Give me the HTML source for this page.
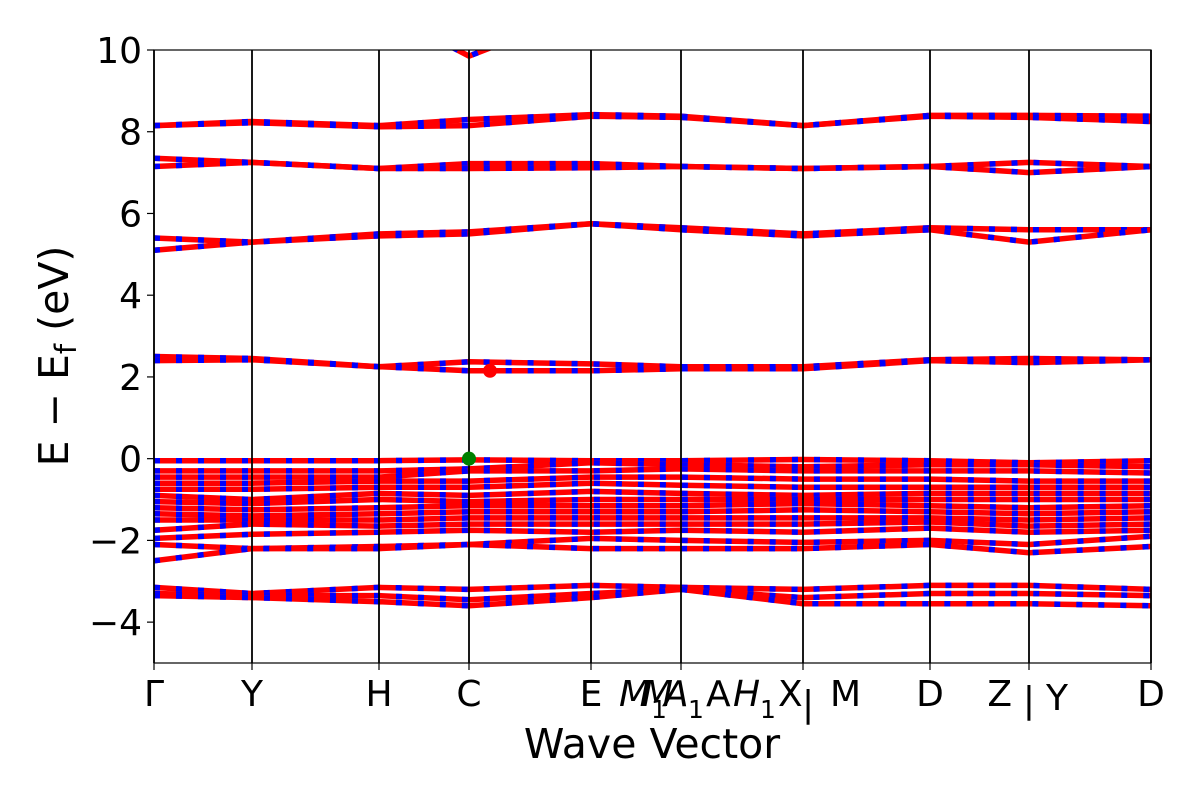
<!DOCTYPE html>
<html><head><meta charset="utf-8"><style>
body{margin:0;background:#fff;}
svg text{font-family:"DejaVu Sans","Liberation Sans",sans-serif;fill:#000;}
</style></head><body>
<svg id="chart" width="1200" height="800">
<defs><clipPath id="clip"><rect x="154" y="50" width="997" height="613"/></clipPath></defs>
<g id="bands" clip-path="url(#clip)"></g>
<g id="axes"></g>
</svg>
<script>
const kPos = [154,252,379,469,591,681,803,930,1029,1151];
const kLabels = ["Γ","Y","H","C","E","","","D","","D"];
const yTicks = [-4,-2,0,2,4,6,8,10];
const bandUp = [
 [11,11,11,9.85,11,11,11,11,11,11],
 [8.15,8.25,8.15,8.3,8.42,8.38,8.15,8.4,8.4,8.38],
 [8.15,8.22,8.12,8.15,8.38,8.35,8.15,8.38,8.35,8.25],
 [7.35,7.25,7.1,7.22,7.22,7.15,7.1,7.15,7.25,7.15],
 [7.15,7.25,7.1,7.1,7.12,7.15,7.1,7.15,7.0,7.15],
 [5.4,5.3,5.5,5.55,5.75,5.65,5.5,5.65,5.6,5.6],
 [5.1,5.3,5.45,5.5,5.75,5.6,5.45,5.6,5.3,5.6],
 [2.5,2.45,2.25,2.37,2.32,2.25,2.25,2.42,2.45,2.42],
 [2.4,2.42,2.25,2.15,2.15,2.2,2.2,2.4,2.35,2.42]
];
const bandVal = [
 [-0.05,-0.05,-0.05,-0.03,-0.05,-0.05,-0.02,-0.05,-0.1,-0.05],
 [-0.3,-0.3,-0.3,-0.25,-0.1,-0.15,-0.2,-0.15,-0.15,-0.2],
 [-0.45,-0.45,-0.45,-0.3,-0.3,-0.25,-0.3,-0.3,-0.3,-0.35],
 [-0.6,-0.6,-0.55,-0.55,-0.45,-0.45,-0.5,-0.5,-0.55,-0.55],
 [-0.75,-0.75,-0.7,-0.7,-0.6,-0.65,-0.7,-0.7,-0.7,-0.7],
 [-0.9,-1.0,-0.85,-0.9,-0.8,-0.85,-0.9,-0.85,-0.85,-0.85],
 [-1.05,-1.1,-1.0,-1.05,-1.0,-1.0,-1.0,-1.0,-1.0,-1.0],
 [-1.2,-1.25,-1.2,-1.15,-1.15,-1.15,-1.1,-1.15,-1.2,-1.15],
 [-1.35,-1.4,-1.35,-1.3,-1.3,-1.3,-1.25,-1.3,-1.35,-1.3],
 [-1.5,-1.5,-1.5,-1.45,-1.45,-1.45,-1.45,-1.45,-1.5,-1.45],
 [-1.75,-1.6,-1.65,-1.6,-1.6,-1.6,-1.6,-1.55,-1.65,-1.6],
 [-1.95,-1.85,-1.8,-1.75,-1.8,-1.75,-1.8,-1.7,-1.8,-1.75],
 [-2.1,-2.2,-2.15,-2.1,-1.95,-2.0,-2.05,-2.0,-2.1,-1.9],
 [-2.5,-2.2,-2.2,-2.1,-2.2,-2.2,-2.2,-2.1,-2.3,-2.15],
 [-3.15,-3.3,-3.15,-3.2,-3.1,-3.15,-3.2,-3.1,-3.1,-3.2],
 [-3.3,-3.35,-3.35,-3.45,-3.3,-3.2,-3.4,-3.3,-3.3,-3.35],
 [-3.35,-3.4,-3.5,-3.6,-3.4,-3.2,-3.55,-3.55,-3.55,-3.6]
];
const cbm = [490, 2.15];
const vbm = [469, 0.0];
const NS="http://www.w3.org/2000/svg";
const y = e => 50 + (10 - e) * (613/15);
const bandsG = document.getElementById('bands');
const axesG = document.getElementById('axes');
function mk(tag, attrs, parent){const el=document.createElementNS(NS,tag);for(const k in attrs)el.setAttribute(k,attrs[k]);parent.appendChild(el);return el;}
function pathD(vals){let d='';vals.forEach((v,i)=>{d+=(i?'L':'M')+kPos[i]+','+y(v).toFixed(1);});return d;}
bandUp.concat(bandVal).forEach((b,i)=>{
  const d=pathD(b);
  const r=mk('path',{d:d,fill:'none',stroke:'#ff0000','stroke-width':5.5},bandsG);
  
  
  const bl=mk('path',{d:d,fill:'none',stroke:'#0000ff','stroke-width':5.5,'stroke-dasharray':'6 16'},bandsG);
  
  
});
kPos.forEach((x,i)=>{
  const l=mk('line',{x1:x,x2:x,y1:50,y2:663,stroke:'#000','stroke-width':1.8},axesG);
  
  
  mk('line',{x1:x,x2:x,y1:663,y2:670,stroke:'#000','stroke-width':1.2},axesG);
});
mk('rect',{x:154,y:50,width:997,height:613,fill:'none',stroke:'#000','stroke-width':1.2},axesG);
const c1=mk('circle',{cx:cbm[0],cy:y(cbm[1]),r:7,fill:'#ff0000'},axesG);


const c2=mk('circle',{cx:vbm[0],cy:y(vbm[1]),r:7,fill:'#008000'},axesG);


yTicks.forEach(t=>{
  mk('line',{x1:147,x2:154,y1:y(t),y2:y(t),stroke:'#000','stroke-width':1.2},axesG);
  const tx=mk('text',{x:142,y:y(t)+13,'font-size':36,'text-anchor':'end'},axesG);
  tx.textContent=(t<0?'\u2212'+(-t):t);
  
  
});
kLabels.forEach((s,i)=>{ if(!s) return;
  const tx=mk('text',{x:kPos[i],y:706,'font-size':36,'text-anchor':'middle'},axesG);
  tx.textContent=s;
  
  
});
</script>
<svg width="1200" height="800" style="position:absolute;left:0;top:0">
<g font-size="36">
<text x="619" y="706" font-style="italic">M</text><text x="651" y="718" font-size="25">1</text>
<text x="642" y="706" font-style="italic">M</text>
<text x="664" y="706" font-style="italic">A</text><text x="688" y="718" font-size="25">1</text>
<text x="706" y="706">A</text>
<text x="733" y="706" font-style="italic">H</text><text x="760" y="718" font-size="25">1</text>
<text x="778" y="706">X</text><text x="802" y="716">|</text>
<text x="830" y="706">M</text>
<text x="1012" y="706" text-anchor="end">Z</text><text x="1029" y="712" text-anchor="middle">|</text><text x="1046" y="710">Y</text>
<text x="652" y="758" font-size="41" text-anchor="middle">Wave Vector</text>
<text transform="translate(68,356) rotate(-90)" font-size="41" text-anchor="middle">E − E<tspan font-size="29" dy="8">f</tspan><tspan dy="-8"> (eV)</tspan></text>
</g>
</svg>
</body></html>
